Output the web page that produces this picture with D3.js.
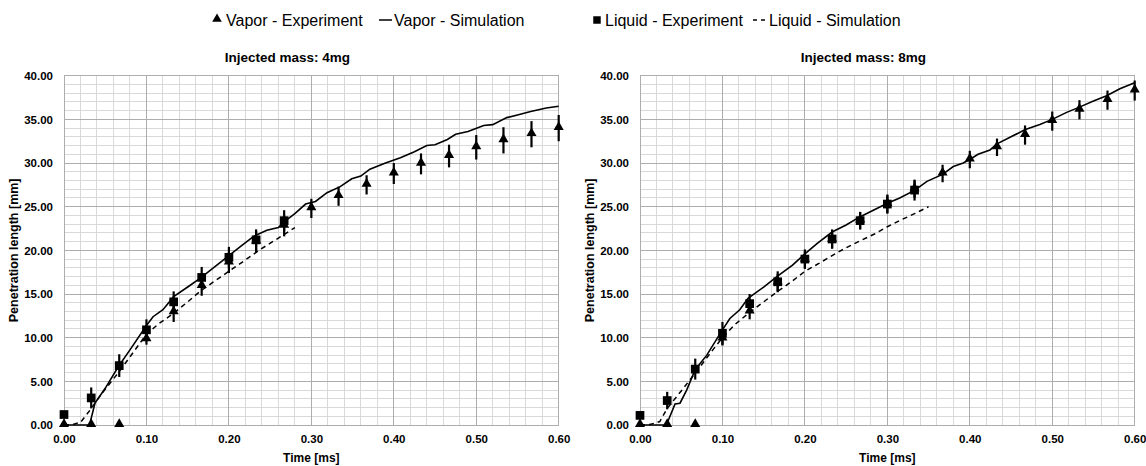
<!DOCTYPE html>
<html>
<head>
<meta charset="utf-8">
<script src="https://cdn.jsdelivr.net/npm/d3@7"></script>
<style>
  html, body { margin: 0; padding: 0; background: #fff; }
  svg { display: block; font-family: "Liberation Sans", Arial, sans-serif; }
</style>
</head>
<body>
<svg id="chart" width="1146" height="466"></svg>
<script>
// Sampling times of the experiments [ms]
const expTimes = [0.000, 0.033, 0.067, 0.100, 0.133, 0.167, 0.200, 0.233, 0.267, 0.300,
                  0.333, 0.367, 0.400, 0.433, 0.467, 0.500, 0.533, 0.567, 0.600];

// Axis ticks
const timeTicks = [0.0, 0.1, 0.2, 0.3, 0.4, 0.5, 0.6];
const lengthTicks = [0, 5, 10, 15, 20, 25, 30, 35, 40];

// ---- Injected mass 4 mg ----
const vapor4Exp = [0, 0, 0, 9.8, 12.9, 15.9, 18.6, 21.0, 22.8, 24.8, 26.2, 27.5, 28.8, 29.9, 30.8, 31.8, 32.6, 33.3, 34.0];
const vapor4Err = [0, 0, 0, 0.6, 1.1, 1.1, 1.2, 1.2, 1.2, 1.1, 1.1, 1.1, 1.2, 1.2, 1.3, 1.4, 1.5, 1.5, 1.5];
const liquid4Exp = [1.2, 3.1, 6.8, 10.9, 14.1, 16.9, 19.2, 21.2, 23.4];
const liquid4Err = [0, 1.2, 1.3, 1.2, 1.2, 1.2, 1.2, 1.2, 1.2];
const vapor4Sim = [[0, 0], [0.031, 0], [0.0376, 2.5], [0.05, 4.2], [0.066, 6.7], [0.08, 8.6], [0.1, 11.4],
  [0.108, 12.4], [0.12, 13.2], [0.133, 14.7], [0.15, 15.8], [0.165, 16.8], [0.18, 17.9], [0.2, 19.4],
  [0.215, 20.5], [0.23, 21.6], [0.246, 22.3], [0.26, 22.6], [0.266, 23.2], [0.28, 24.2], [0.293, 25.3],
  [0.305, 25.6], [0.319, 26.6], [0.335, 27.3], [0.349, 28.2], [0.36, 28.5], [0.371, 29.3], [0.39, 30.0],
  [0.408, 30.6], [0.425, 31.3], [0.44, 32.0], [0.45, 32.1], [0.465, 32.7], [0.475, 33.3], [0.49, 33.6],
  [0.509, 34.3], [0.52, 34.4], [0.537, 35.2], [0.55, 35.5], [0.566, 35.9], [0.585, 36.3], [0.6, 36.5]];
const liquid4Sim = [[0, 0], [0.01, 0.05], [0.02, 0.3], [0.0316, 1.7], [0.045, 3.5], [0.066, 6.0],
  [0.08, 7.8], [0.1, 10.4], [0.115, 11.6], [0.133, 12.8], [0.15, 14.1], [0.165, 15.3], [0.18, 16.3],
  [0.2, 17.6], [0.22, 18.9], [0.238, 20.1], [0.26, 21.4], [0.28, 22.6]];

// ---- Injected mass 8 mg ----
const vapor8Exp = [0, 0, 0, 9.9, 13.0, 16.3, 18.9, 21.2, 23.4, 25.3, 27.0, 28.8, 30.4, 31.8, 33.2, 34.8, 36.1, 37.2, 38.3];
const vapor8Err = [0, 0, 0, 0.8, 0.9, 1.0, 1.0, 1.0, 1.0, 1.0, 1.0, 1.0, 1.0, 1.0, 1.1, 1.1, 1.1, 1.1, 1.15];
const liquid8Exp = [1.1, 2.8, 6.4, 10.5, 13.9, 16.4, 19.0, 21.3, 23.4, 25.3, 26.9];
const liquid8Err = [0, 1.0, 1.2, 1.3, 1.1, 1.2, 1.1, 1.1, 1.0, 1.1, 1.2];
const vapor8Sim = [[0, 0], [0.032, 0], [0.0425, 2.4], [0.0485, 2.5], [0.0566, 4.0], [0.0667, 6.3],
  [0.081, 8.0], [0.1, 10.9], [0.109, 12.2], [0.121, 13.2], [0.131, 14.5], [0.15, 15.8], [0.166, 17.0],
  [0.185, 18.3], [0.2, 19.6], [0.215, 20.8], [0.233, 22.1], [0.25, 22.9], [0.266, 23.8], [0.283, 24.6],
  [0.3, 25.4], [0.315, 26.0], [0.3335, 26.9], [0.348, 27.9], [0.367, 28.7], [0.38, 29.6], [0.392, 30.0],
  [0.4, 30.4], [0.41, 31.0], [0.4245, 31.5], [0.433, 32.2], [0.45, 33.0], [0.4666, 33.8], [0.485, 34.4],
  [0.5, 35.0], [0.5175, 35.8], [0.533, 36.4], [0.55, 37.1], [0.566, 37.7], [0.582, 38.5], [0.6, 39.2]];
const liquid8Sim = [[0, 0], [0.012, 0.05], [0.024, 0.4], [0.033, 1.9], [0.05, 3.9], [0.0667, 5.9],
  [0.085, 8.2], [0.1, 10.0], [0.115, 11.5], [0.133, 12.9], [0.15, 14.1], [0.167, 15.3], [0.185, 16.5],
  [0.2, 17.6], [0.217, 18.5], [0.233, 19.4], [0.25, 20.3], [0.267, 21.1], [0.285, 21.9], [0.3, 22.7],
  [0.317, 23.5], [0.333, 24.2], [0.35, 25.0]];

const panels = [
  { title: "Injected mass: 4mg", left: 64, vapor: vapor4Exp, vaporErr: vapor4Err,
    liquid: liquid4Exp, liquidErr: liquid4Err, vaporSim: vapor4Sim, liquidSim: liquid4Sim },
  { title: "Injected mass: 8mg", left: 640, vapor: vapor8Exp, vaporErr: vapor8Err,
    liquid: liquid8Exp, liquidErr: liquid8Err, vaporSim: vapor8Sim, liquidSim: liquid8Sim }
];

const svg = d3.select("#chart");
const plotW = 494.7, plotTop = 75.7, plotBottom = 425;
const triangle = d3.symbol().type(d3.symbolTriangle).size(44);
const square = d3.symbol().type(d3.symbolSquare).size(76);

panels.forEach(p => {
  const x = d3.scaleLinear().domain([0, 0.6]).range([p.left, p.left + plotW]);
  const y = d3.scaleLinear().domain([0, 40]).range([plotBottom, plotTop]);
  const g = svg.append("g");

  // minor grid
  const minorX = d3.range(0, 31).map(i => i * 0.02);
  const minorY = d3.range(0, 41);
  g.append("g").selectAll("line").data(minorX).join("line")
    .attr("x1", d => x(d)).attr("x2", d => x(d)).attr("y1", plotTop).attr("y2", plotBottom)
    .attr("stroke", "#d9d9d9").attr("stroke-width", 1).attr("shape-rendering", "crispEdges");
  g.append("g").selectAll("line").data(minorY).join("line")
    .attr("x1", p.left).attr("x2", p.left + plotW).attr("y1", d => y(d)).attr("y2", d => y(d))
    .attr("stroke", "#d9d9d9").attr("stroke-width", 1).attr("shape-rendering", "crispEdges");
  // major grid
  g.append("g").selectAll("line").data(timeTicks).join("line")
    .attr("x1", d => x(d)).attr("x2", d => x(d)).attr("y1", plotTop).attr("y2", plotBottom)
    .attr("stroke", "#adadad").attr("stroke-width", 1).attr("shape-rendering", "crispEdges");
  g.append("g").selectAll("line").data(lengthTicks).join("line")
    .attr("x1", p.left).attr("x2", p.left + plotW).attr("y1", d => y(d)).attr("y2", d => y(d))
    .attr("stroke", "#adadad").attr("stroke-width", 1).attr("shape-rendering", "crispEdges");

  // axes (labels only)
  const xAxis = g.append("g").attr("transform", `translate(0,${plotBottom})`)
    .call(d3.axisBottom(x).tickValues(timeTicks).tickFormat(d3.format(".2f")).tickSize(0).tickPadding(10));
  const yAxis = g.append("g").attr("transform", `translate(${p.left},0)`)
    .call(d3.axisLeft(y).tickValues(lengthTicks).tickFormat(d3.format(".2f")).tickSize(0).tickPadding(11));
  [xAxis, yAxis].forEach(a => {
    a.select(".domain").remove();
    a.selectAll("text").attr("font-size", 11.5).attr("font-weight", "bold")
      .attr("font-family", "Liberation Sans, Arial, sans-serif").attr("fill", "#000");
  });

  // titles
  g.append("text").attr("x", p.left + plotW / 2 - 24).attr("y", 62).attr("text-anchor", "middle")
    .attr("font-size", 13.5).attr("font-weight", "bold").text(p.title);
  g.append("text").attr("x", p.left + plotW / 2).attr("y", 462).attr("text-anchor", "middle")
    .attr("font-size", 12).attr("font-weight", "bold").text("Time [ms]");
  g.append("text").attr("transform", `translate(${p.left - 46},${(plotTop + plotBottom) / 2}) rotate(-90)`)
    .attr("text-anchor", "middle").attr("font-size", 12.5).attr("font-weight", "bold")
    .text("Penetration length [mm]");

  // simulation curves
  const line = d3.line().x(d => x(d[0])).y(d => y(d[1]));
  g.append("path").attr("d", line(p.liquidSim)).attr("fill", "none").attr("stroke", "#000")
    .attr("stroke-width", 1.5).attr("stroke-dasharray", "5,4");
  g.append("path").attr("d", line(p.vaporSim)).attr("fill", "none").attr("stroke", "#000")
    .attr("stroke-width", 1.6);

  // vapor experiment: triangles with error bars
  const vap = p.vapor.map((v, i) => ({ t: expTimes[i], v, e: p.vaporErr[i] }));
  g.append("g").selectAll("line").data(vap.filter(d => d.e > 0)).join("line")
    .attr("x1", d => x(d.t)).attr("x2", d => x(d.t)).attr("y1", d => y(d.v - d.e)).attr("y2", d => y(d.v + d.e))
    .attr("stroke", "#000").attr("stroke-width", 2.2);
  g.append("g").selectAll("path").data(vap).join("path")
    .attr("d", triangle).attr("transform", d => `translate(${x(d.t)},${y(d.v) - 1})`).attr("fill", "#000");

  // liquid experiment: squares with error bars
  const liq = p.liquid.map((v, i) => ({ t: expTimes[i], v, e: p.liquidErr[i] }));
  g.append("g").selectAll("line").data(liq.filter(d => d.e > 0)).join("line")
    .attr("x1", d => x(d.t)).attr("x2", d => x(d.t)).attr("y1", d => y(d.v - d.e)).attr("y2", d => y(d.v + d.e))
    .attr("stroke", "#000").attr("stroke-width", 2.2);
  g.append("g").selectAll("path").data(liq).join("path")
    .attr("d", square).attr("transform", d => `translate(${x(d.t)},${y(d.v)})`).attr("fill", "#000");
});

// legend
const legend = svg.append("g").attr("font-size", 16);
const ly = 20;
legend.append("path").attr("d", d3.symbol().type(d3.symbolTriangle).size(40)())
  .attr("transform", `translate(217,${ly - 1})`).attr("fill", "#000");
legend.append("text").attr("x", 226).attr("y", ly + 6).text("Vapor - Experiment");
legend.append("line").attr("x1", 379).attr("x2", 392).attr("y1", ly).attr("y2", ly)
  .attr("stroke", "#000").attr("stroke-width", 1.5);
legend.append("text").attr("x", 394).attr("y", ly + 6).text("Vapor - Simulation");
legend.append("path").attr("d", d3.symbol().type(d3.symbolSquare).size(56)())
  .attr("transform", `translate(597,${ly})`).attr("fill", "#000");
legend.append("text").attr("x", 605).attr("y", ly + 6).text("Liquid - Experiment");
legend.append("line").attr("x1", 753).attr("x2", 767).attr("y1", ly).attr("y2", ly)
  .attr("stroke", "#000").attr("stroke-width", 1.5).attr("stroke-dasharray", "4,4");
legend.append("text").attr("x", 769).attr("y", ly + 6).text("Liquid - Simulation");
</script>
</body>
</html>
